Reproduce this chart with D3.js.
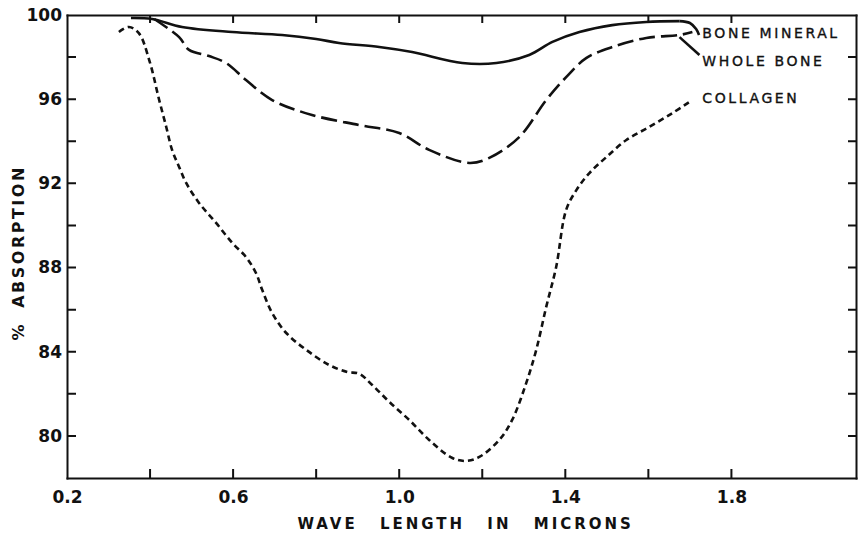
<!DOCTYPE html>
<html>
<head>
<meta charset="utf-8">
<script src="https://cdn.jsdelivr.net/npm/d3@7"></script>
<style>
body { margin: 0; background: #fff; }
svg text { font-family: "DejaVu Sans", sans-serif; fill: #111; }
.axis path { stroke: #111; stroke-width: 2; }
.axis text { font-size: 17px; font-weight: bold; }
.tk { fill: none; stroke: #111; stroke-width: 2; }
.curve { fill: none; stroke: #111; stroke-width: 2.6; stroke-linecap: butt; }
.lbl { font-size: 14px; letter-spacing: 2.6px; stroke: #111; stroke-width: 0.35; }
</style>
</head>
<body>
<svg id="svg_chart" width="863" height="533"></svg>
<script>
// values (wave length in microns, % absorption)
var mineral_x = [0.354, 0.405, 0.477, 0.598, 0.718, 0.800, 0.855, 0.952, 1.031, 1.152, 1.234, 1.313, 1.369, 1.434, 1.513, 1.595, 1.675];
var mineral_y = [99.86, 99.81, 99.43, 99.19, 99.05, 98.86, 98.67, 98.48, 98.24, 97.72, 97.72, 98.10, 98.72, 99.19, 99.52, 99.67, 99.71];

var whole_x = [0.410, 0.470, 0.494, 0.542, 0.583, 0.631, 0.694, 0.790, 0.904, 1.000, 1.072, 1.169, 1.217, 1.289, 1.354, 1.402, 1.451, 1.513, 1.595, 1.675, 1.706];
var whole_y = [99.81, 98.95, 98.34, 98.05, 97.72, 96.91, 95.96, 95.25, 94.77, 94.39, 93.59, 92.97, 93.21, 94.20, 95.96, 97.05, 97.96, 98.48, 98.91, 99.05, 99.19];

var collagen_x = [0.325, 0.349, 0.373, 0.398, 0.422, 0.439, 0.453, 0.470, 0.487, 0.518, 0.559, 0.598, 0.631, 0.655, 0.670, 0.694, 0.728, 0.776, 0.831, 0.875, 0.904, 0.935, 0.976, 1.024, 1.072, 1.128, 1.161, 1.193, 1.241, 1.272, 1.306, 1.330, 1.354, 1.378, 1.402, 1.427, 1.458, 1.499, 1.547, 1.602, 1.658, 1.699];
var collagen_y = [99.19, 99.43, 99.14, 97.86, 95.96, 94.68, 93.59, 92.78, 92.02, 91.07, 90.12, 89.17, 88.50, 87.74, 86.94, 85.84, 84.89, 84.09, 83.37, 83.04, 82.95, 82.42, 81.62, 80.76, 79.81, 78.95, 78.81, 79.00, 79.81, 80.76, 82.52, 84.09, 86.13, 88.03, 90.74, 91.69, 92.49, 93.25, 94.06, 94.68, 95.34, 95.87];

// leader strokes from curve ends to the labels
var lead_mineral_x = [1.675, 1.700, 1.715, 1.722];
var lead_mineral_y = [99.71, 99.62, 99.33, 99.05];
var lead_whole_x = [1.675, 1.723];
var lead_whole_y = [98.95, 98.10];

var x_ticks = [0.4, 0.6, 0.8, 1.0, 1.2, 1.4, 1.6, 1.8];
var x_labels = [0.2, 0.6, 1.0, 1.4, 1.8];
var y_ticks = [80, 82, 84, 86, 88, 90, 92, 94, 96, 98];
var y_labels = [80, 84, 88, 92, 96, 100];
var series_names = ["BONE MINERAL", "WHOLE BONE", "COLLAGEN"];

var svg = d3.select("svg#svg_chart");
var margin = {top: 15, right: 7, bottom: 55, left: 67};
var width = +svg.attr("width") - margin.left - margin.right;
var height = +svg.attr("height") - margin.top - margin.bottom;

var x = d3.scaleLinear().domain([0.2, 2.1]).range([0, width]);
var y = d3.scaleLinear().domain([78, 100]).range([height, 0]);

var g = svg.append("g")
	.attr("transform", "translate(" + margin.left + "," + margin.top + ")");

// labels from the axes, ticks drawn separately (all pointing inward)
g.append("g")
	.attr("class", "axis axis--x")
	.attr("transform", "translate(0," + height + ")")
	.call(d3.axisBottom(x).tickValues(x_labels).tickSize(0).tickPadding(13).tickFormat(d3.format(".1f")));

g.append("g")
	.attr("class", "axis")
	.call(d3.axisTop(x).tickValues([]).tickSize(0));

g.append("g")
	.attr("class", "axis axis--y")
	.call(d3.axisLeft(y).tickValues(y_labels).tickSize(0).tickPadding(5));

g.append("g")
	.attr("class", "axis")
	.attr("transform", "translate(" + width + ",0)")
	.call(d3.axisRight(y).tickValues([]).tickSize(0));

g.selectAll(".axis .domain").attr("stroke-linecap", "square");

// tick marks as one path: bottom, top, left, right
var tick_path = d3.path();
x_ticks.forEach(function(d) {
	tick_path.moveTo(x(d), height); tick_path.lineTo(x(d), height - 9);
	tick_path.moveTo(x(d), 0); tick_path.lineTo(x(d), 8);
});
y_ticks.forEach(function(d) {
	tick_path.moveTo(0, y(d)); tick_path.lineTo(9, y(d));
	tick_path.moveTo(width, y(d)); tick_path.lineTo(width - 8, y(d));
});
g.append("path")
	.attr("class", "tk")
	.attr("d", tick_path.toString());

var line = d3.line()
	.curve(d3.curveCatmullRom.alpha(0.5))
	.x(function(d) { return x(d[0]); })
	.y(function(d) { return y(d[1]); });

var zip = function(xs, ys) { return xs.map(function(v, i) { return [v, ys[i]]; }); };

var series = [
	{pts: zip(mineral_x, mineral_y), dash: null},
	{pts: zip(whole_x, whole_y), dash: "16,6"},
	{pts: zip(collagen_x, collagen_y), dash: "6,4"},
	{pts: zip(lead_mineral_x, lead_mineral_y), dash: null},
	{pts: zip(lead_whole_x, lead_whole_y), dash: null}
];

g.selectAll(".curve")
	.data(series)
	.enter().append("path")
	.attr("class", "curve")
	.attr("stroke-dasharray", function(d) { return d.dash; })
	.attr("stroke-width", function(d, i) { return i > 2 ? 2 : 2.6; })
	.attr("d", function(d) { return line(d.pts); });

// series labels
var label_y = [98.9, 97.6, 95.8];
g.selectAll(".lbl")
	.data(series_names)
	.enter().append("text")
	.attr("class", "lbl")
	.attr("x", x(1.73))
	.attr("y", function(d, i) { return y(label_y[i]); })
	.text(function(d) { return d; });

// axis titles
svg.append("text")
	.attr("x", margin.left + x(1.16))
	.attr("y", 529)
	.attr("text-anchor", "middle")
	.style("font-size", "15px")
	.style("font-weight", "bold")
	.style("letter-spacing", "3px")
	.style("word-spacing", "14px")
	.text("WAVE LENGTH IN MICRONS");

svg.append("text")
	.attr("transform", "translate(24," + (margin.top + y(88.7)) + ") rotate(-90)")
	.attr("text-anchor", "middle")
	.style("font-size", "16px")
	.style("font-weight", "bold")
	.style("letter-spacing", "2.5px")
	.style("word-spacing", "6px")
	.text("% ABSORPTION");
</script>
</body>
</html>
